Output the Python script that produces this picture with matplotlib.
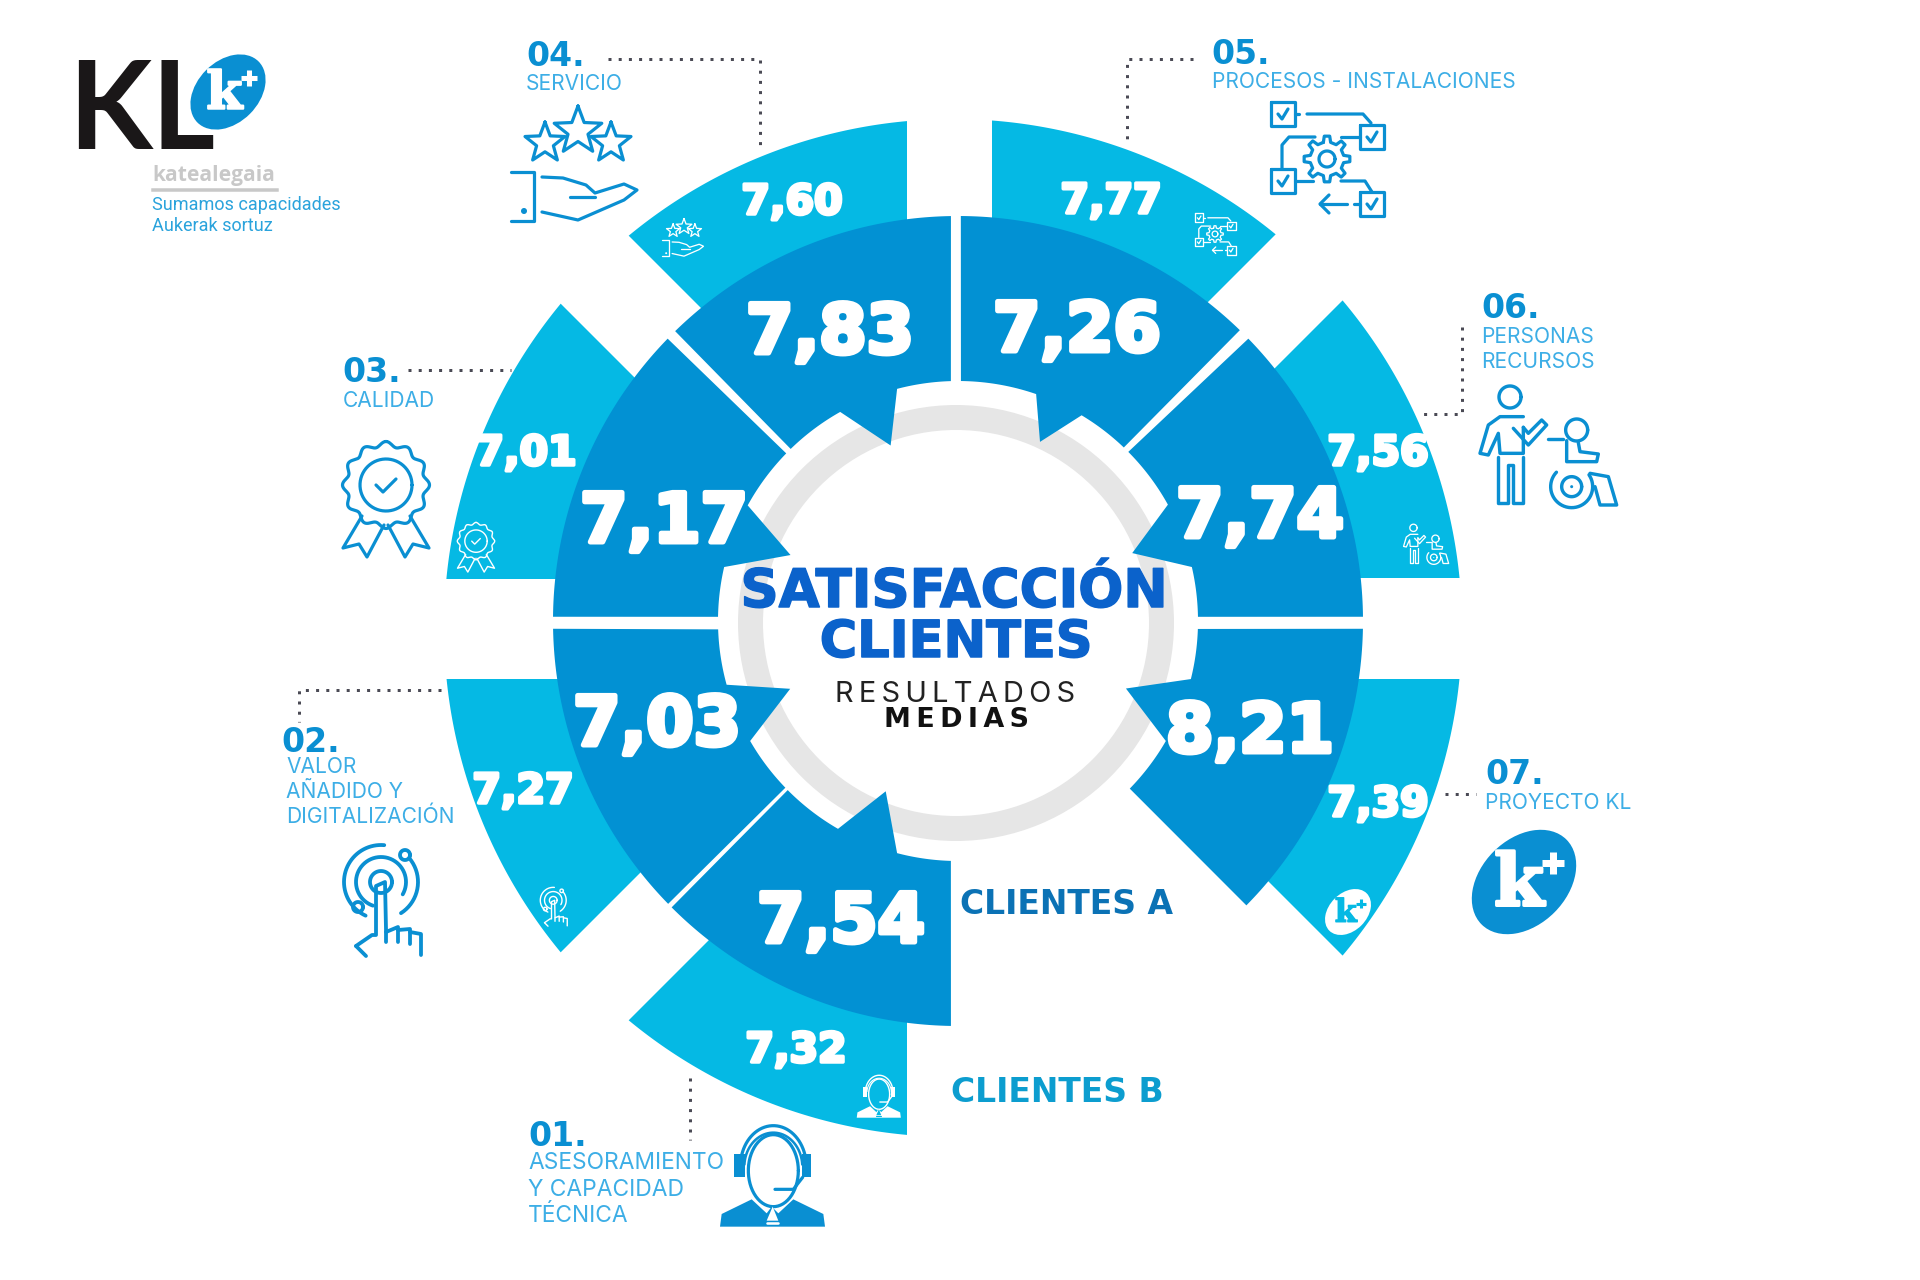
import numpy as np
import matplotlib
matplotlib.use("Agg")
import matplotlib.pyplot as plt
from matplotlib.patches import Ellipse, Wedge
import matplotlib.patheffects as pe

# ---------- data ----------
categories = ["ASESORAMIENTO\nY CAPACIDAD\nTÉCNICA", "VALOR\nAÑADIDO Y\nDIGITALIZACIÓN", "CALIDAD", "SERVICIO",
              "PROCESOS - INSTALACIONES", "PERSONAS\nRECURSOS", "PROYECTO KL"]
numbers = ["01.", "02.", "03.", "04.", "05.", "06.", "07."]
clientes_a = ["7,54", "7,03", "7,17", "7,83", "7,26", "7,74", "8,21"]
clientes_b = ["7,32", "7,27", "7,01", "7,60", "7,77", "7,56", "7,39"]

# ---------- style ----------
DARK = "#0291D3"; LIGHT = "#05B9E4"; ICON = "#0A8FD2"; LABEL = "#3DAEE6"
TITLE = "#0B62CB"; DOT = "#4A4A55"
CX, CY = 958, 621
CXO, CYO, RO = 953, 628, 509
R_OUT, R_IN = 405, 240
R_HIDE = 310

fig = plt.figure(figsize=(19.2, 12.8), dpi=100, facecolor="white")
ax = fig.add_axes([0, 0, 1, 1])
ax.set_xlim(0, 1920); ax.set_ylim(1280, 0); ax.axis("off")


def px(v):
    return v * 0.72


def pol(r, a):
    t = np.radians(a)
    return CX + r * np.sin(t), CY - r * np.cos(t)


def hit(ox, oy, dx, dy, ccx, ccy, rad):
    """Where a ray leaves a circle."""
    n = np.hypot(dx, dy); dx, dy = dx / n, dy / n
    fx, fy = ox - ccx, oy - ccy
    b = fx * dx + fy * dy
    c = fx * fx + fy * fy - rad * rad
    k = -b + np.sqrt(b * b - c)
    return ox + k * dx, oy + k * dy


# ---------- outer (Clientes B) wedges ----------
# order follows categories: edge crossing offset, first edge direction, second edge direction (clockwise)
light_geom = [
    ((-51, 121), (0, 1), (-1, 1)),
    ((-124, 58), (-1, 1), (-1, 0)),
    ((-122, -42), (-1, 0), (-1, -1)),
    ((-51, -107), (-1, -1), (0, -1)),
    ((34, -103), (0, -1), (1, -1)),
    ((107, -43), (1, -1), (1, 0)),
    ((108, 58), (1, 0), (1, 1)),
]
for (ap, d1, d2) in light_geom:
    ox, oy = CX + ap[0], CY + ap[1]
    p1 = hit(ox, oy, *d1, CXO, CYO, RO); p2 = hit(ox, oy, *d2, CXO, CYO, RO)
    q1 = hit(ox, oy, *d1, CX, CY, R_HIDE); q2 = hit(ox, oy, *d2, CX, CY, R_HIDE)
    a1 = np.arctan2(p1[0] - CXO, -(p1[1] - CYO)); a2 = np.arctan2(p2[0] - CXO, -(p2[1] - CYO))
    a2 = a1 + (a2 - a1) % (2 * np.pi)
    tt = np.linspace(a1, a2, 60)
    xs = [q1[0]] + list(CXO + RO * np.sin(tt)) + [q2[0]]
    ys = [q1[1]] + list(CYO - RO * np.cos(tt)) + [q2[1]]
    ax.fill(xs, ys, color=LIGHT, lw=0, zorder=1)

# ---------- grey ring ----------
ax.add_patch(Wedge((956, 623), 218, 0, 360, width=25, color="#E6E6E6", lw=0, zorder=1.5))

# ---------- inner (Clientes A) sectors ----------
dark_geom = [  # outer start/end, inner start/end, notch start, tip, end, tip radius
    (181, 225, 181.7, 225.2, 194.7, 203, 210, 185),
    (225.7, 268.9, 226, 268, 240, 248, 254.6, 181),
    (270.6, 314.2, 271, 314.3, 283, 291.5, 298.8, 180),
    (315.7, 359, 315.8, 358.3, 330.6, 339, 345.3, 188),
    (0.4, 44.1, 0.7, 43.7, 19, 24.6, 31, 197),
    (45.8, 89.4, 45.2, 89, 61, 68.7, 77, 187),
    (91.1, 134.6, 91.9, 134.3, 104, 111.9, 120, 181),
]
for g in dark_geom:
    a0, a1, i0, i1, n1, nt, n2, rt = g
    pts = [pol(R_OUT, a) for a in np.linspace(a0, a1, 60)]
    pts += [pol(R_IN, a) for a in np.linspace(i1, n2, 20)]
    pts += [pol(rt, nt)]
    pts += [pol(R_IN, a) for a in np.linspace(n1, i0, 20)]
    xs, ys = zip(*pts)
    ax.fill(xs, ys, color=DARK, lw=0, zorder=2)

# ---------- values ----------
a_pos = [(841, 923), (657, 726), (664, 523), (830, 334), (1077, 332), (1260, 518), (1250, 733)]
b_pos = [(796, 1051), (523, 792), (526, 454), (792, 203), (1111, 202), (1378, 454), (1378, 805)]
for v, (x, y) in zip(clientes_a, a_pos):
    ax.text(x, y, v, color="white", fontsize=px(68), fontweight="bold", family="DejaVu Sans",
            ha="center", va="center", zorder=5,
            path_effects=[pe.withStroke(linewidth=px(5), foreground="white")])
for v, (x, y) in zip(clientes_b, b_pos):
    ax.text(x, y, v, color="white", fontsize=px(41), fontweight="bold", family="DejaVu Sans",
            ha="center", va="center", zorder=5,
            path_effects=[pe.withStroke(linewidth=px(3.5), foreground="white")])

# ---------- centre title ----------
ax.text(954, 592, "SATISFACCIÓN", color=TITLE, fontsize=px(53), fontweight="bold", family="DejaVu Sans",
        ha="center", va="center", zorder=6, path_effects=[pe.withStroke(linewidth=px(1.5), foreground=TITLE)])
ax.text(956, 643, "CLIENTES", color=TITLE, fontsize=px(51), fontweight="bold", family="DejaVu Sans",
        ha="center", va="center", zorder=6, path_effects=[pe.withStroke(linewidth=px(1.5), foreground=TITLE)])
ax.text(955, 694, "R\u2009E\u2009S\u2009U\u2009L\u2009T\u2009A\u2009D\u2009O\u2009S", color="#222222",
        fontsize=px(29), family=["Inter", "DejaVu Sans"], ha="center", va="center", zorder=6)
ax.text(956, 720, "M\u2009E\u2009D\u2009I\u2009A\u2009S", color="#111111", fontsize=px(27), fontweight="bold",
        family=["DejaVu Sans"], ha="center", va="center", zorder=6)

# ---------- legend labels ----------
ax.text(960, 905, "CLIENTES A", color="#0B72B5", fontsize=px(33), fontweight="bold", family="DejaVu Sans",
        ha="left", va="center", zorder=6)
ax.text(951, 1092, "CLIENTES B", color="#0C9DCF", fontsize=px(33), fontweight="bold", family="DejaVu Sans",
        ha="left", va="center", zorder=6)

# ---------- callouts ----------
num_pos = [(528, 1137), (281, 742), (342, 373), (526, 57), (1211, 54), (1481, 309), (1485, 775)]
txt_pos = [(528, 1163), (286, 767), (343, 401), (526, 84), (1212, 82), (1481, 337), (1485, 803)]
steps = [26.5, 25, 25, 25, 25, 25, 25]
for num, name, (nx, ny), (tx, ty), st in zip(numbers, categories, num_pos, txt_pos, steps):
    ax.text(nx, ny, num, color=ICON, fontsize=px(33), fontweight="bold", family="DejaVu Sans",
            ha="left", va="center", zorder=6)
    for i, line in enumerate(name.split("\n")):
        ax.text(tx, ty + i * st, line, color=LABEL, fontsize=px(22.8 if num == "01." else 21),
                family="Inter", ha="left", va="center", zorder=6)

leaders = [
    ([690, 690], [1078, 1140]),
    ([441, 299, 299], [690, 690, 722]),
    ([408, 511], [370, 370]),
    ([608, 760, 760], [59, 59, 150]),
    ([1193, 1127, 1127], [59, 59, 140]),
    ([1462, 1462, 1423], [327, 414, 414]),
    ([1445, 1476], [794, 794]),
]
for lx, ly in leaders:
    ax.plot(lx, ly, color=DOT, lw=px(3), ls=(0, (1, 2.4)), zorder=3)


# ---------- icons ----------
def poly(cx, cy, s, pts, c, lw, closed=False, fill=False):
    xs = [cx + s * p[0] for p in pts]; ys = [cy + s * p[1] for p in pts]
    if fill:
        ax.fill(xs, ys, color=c, lw=0, zorder=7)
        return
    if closed:
        xs.append(xs[0]); ys.append(ys[0])
    ax.plot(xs, ys, color=c, lw=px(lw), solid_capstyle="round", solid_joinstyle="round", zorder=7)


def circ(cx, cy, s, x, y, r, c, lw, fill=False):
    t = np.linspace(0, 2 * np.pi, 60)
    poly(cx, cy, s, list(zip(x + r * np.cos(t), y + r * np.sin(t))), c, lw, fill=fill)


def star(x, y, r):
    out = []
    for k in range(10):
        rr = r if k % 2 == 0 else r * 0.42
        a = np.radians(k * 36)
        out.append((x + rr * np.sin(a), y - rr * np.cos(a)))
    return out


def gear(r1, r2, n):
    out = []
    for k in range(n):
        b = 2 * np.pi * k / n; w = np.pi / n
        for da, rr in ((-0.55 * w, r1), (-0.3 * w, r2), (0.3 * w, r2), (0.55 * w, r1)):
            out.append((rr * np.sin(b + da), -rr * np.cos(b + da)))
    return out


def icon_hand(cx, cy, s, c, lw):
    for (x, y, r) in ((0, -37, 25), (-33, -25, 21), (33, -25, 21)):
        poly(cx, cy, s, star(x, y, r), c, lw, closed=True)
    poly(cx, cy, s, [(-67, 4), (-44, 4), (-44, 53), (-67, 53)], c, lw)
    circ(cx, cy, s, -54, 43, 3, c, lw, fill=True)
    poly(cx, cy, s, [(-36, 9), (-15, 10), (8, 17), (17, 25), (46, 16), (59, 22), (46, 32), (0, 52), (-36, 44)], c, lw)
    poly(cx, cy, s, [(-8, 29), (17, 29)], c, lw)


def icon_process(cx, cy, s, c, lw):
    for (x, y) in ((-44, -45), (45, -22), (-44, 22), (45, 45)):
        poly(cx, cy, s, [(x - 12, y - 12), (x + 12, y - 12), (x + 12, y + 12), (x - 12, y + 12)], c, lw, closed=True)
        poly(cx, cy, s, [(x - 5, y), (x - 1, y + 5), (x + 5, y - 5)], c, lw)
    poly(cx, cy, s, gear(17, 23, 8), c, lw, closed=True)
    circ(cx, cy, s, 0, 0, 8, c, lw)
    poly(cx, cy, s, [(-32, -45), (-28, -45)], c, lw)
    poly(cx, cy, s, [(-20, -45), (36, -45), (44, -36)], c, lw)
    poly(cx, cy, s, [(-12, -22), (-38, -22), (-45, -14), (-45, 10)], c, lw)
    poly(cx, cy, s, [(14, -22), (33, -22)], c, lw)
    poly(cx, cy, s, [(-32, 22), (-14, 22)], c, lw)
    poly(cx, cy, s, [(14, 22), (38, 22), (45, 33)], c, lw)
    poly(cx, cy, s, [(-7, 45), (20, 45)], c, lw)
    poly(cx, cy, s, [(2, 36), (-7, 45), (2, 54)], c, lw)
    poly(cx, cy, s, [(27, 45), (33, 45)], c, lw)


def icon_people(cx, cy, s, c, lw):
    z = lambda L: [(1180 + a / 3 - 1548, 20 + b / 3 - 449) for a, b in L]
    circ(cx, cy, s, -38, -52, 11, c, lw)
    poly(cx, cy, s, z([(1030, 1190), (960, 1190), (925, 1215), (900, 1300), (925, 1305), (955, 1240), (960, 1300), (1030, 1300), (1030, 1222)]), c, lw)
    poly(cx, cy, s, z([(1000, 1225), (1045, 1275), (1100, 1215), (1085, 1200), (1045, 1240), (1030, 1222)]), c, lw)
    poly(cx, cy, s, z([(955, 1312), (955, 1450), (985, 1450), (985, 1335), (1000, 1335), (1000, 1450), (1030, 1450), (1030, 1312)]), c, lw)
    circ(cx, cy, s, 1180 + 1190 / 3 - 1548, 20 + 1230 / 3 - 449, 11, c, lw)
    poly(cx, cy, s, z([(1105, 1258), (1150, 1258)]), c, lw)
    poly(cx, cy, s, z([(1160, 1262), (1160, 1325), (1250, 1325), (1255, 1302), (1200, 1295), (1195, 1268)]), c, lw)
    wx, wy = 1180 + 1175 / 3 - 1548, 20 + 1400 / 3 - 449
    t = np.linspace(-0.6, 3.9, 40)
    poly(cx, cy, s, list(zip(wx + 21 * np.cos(t), wy + 21 * np.sin(t))), c, lw)
    circ(cx, cy, s, wx, wy, 10, c, lw)
    circ(cx, cy, s, wx, wy, 1.5, c, lw, fill=True)
    poly(cx, cy, s, z([(1230, 1360), (1285, 1370), (1310, 1455), (1260, 1455), (1245, 1400)]), c, lw)


def icon_medal(cx, cy, s, c, lw):
    t = np.linspace(0, 2 * np.pi, 240)
    rr = 41 + 2.5 * np.cos(12 * t)
    poly(cx, cy, s, list(zip(rr * np.sin(t), -16 - rr * np.cos(t))), c, lw, closed=True)
    circ(cx, cy, s, 0, -16, 26, c, lw)
    poly(cx, cy, s, [(-10, -16), (-3, -9), (10, -22)], c, lw)
    poly(cx, cy, s, [(-24, 15), (-43, 47), (-27, 43), (-19, 56), (-2, 24)], c, lw)
    poly(cx, cy, s, [(24, 15), (43, 47), (27, 43), (19, 56), (2, 24)], c, lw)


def icon_touch(cx, cy, s, c, lw):
    rx, ry = -5, -22
    circ(cx, cy, s, rx, ry, 11, c, lw)
    t = np.linspace(1.0, 5.9, 50)
    poly(cx, cy, s, list(zip(rx + 25 * np.cos(t + 0.9), ry + 25 * np.sin(t + 0.9))), c, lw)
    t = np.linspace(2.0, 4.8, 40)
    poly(cx, cy, s, list(zip(rx + 37 * np.cos(t), ry + 37 * np.sin(t))), c, lw)
    t = np.linspace(-0.7, 1.0, 20)
    poly(cx, cy, s, list(zip(rx + 37 * np.cos(t), ry + 37 * np.sin(t))), c, lw)
    circ(cx, cy, s, 19, -49, 5, c, lw)
    circ(cx, cy, s, -28, 3, 5, c, lw)
    poly(cx, cy, s, [(-30, 42), (-14, 31), (-10, 31), (-10, -18), (-1, -22), (0, 25), (0, 38)], c, lw)
    poly(cx, cy, s, [(-30, 42), (-20, 52)], c, lw)
    poly(cx, cy, s, [(0, 28), (12, 23), (12, 38)], c, lw)
    poly(cx, cy, s, [(12, 26), (24, 25), (24, 40)], c, lw)
    poly(cx, cy, s, [(24, 28), (35, 30), (35, 51)], c, lw)


def icon_head(cx, cy, s, c, lw, bg):
    z = lambda L: [(500 + a / 3 - 773, 1060 + b / 3 - 1175) for a, b in L]
    t = np.linspace(0, 2 * np.pi, 60)
    fx, fy = 500 + 820 / 3 - 773, 1060 + 320 / 3 - 1175
    poly(cx, cy, s, z([(660, 500), (665, 462), (755, 418), (800, 460), (815, 440), (835, 460), (880, 418), (970, 462), (975, 500)]), c, lw, fill=True)
    poly(cx, cy, s, list(zip(fx + 25 * np.cos(t), fy + 4 + 36 * np.sin(t))), c, lw)
    t = np.linspace(np.pi * 1.02, np.pi * 1.98, 40)
    poly(cx, cy, s, list(zip(fx + 33 * np.cos(t), fy + 41 * np.sin(t))), c, lw)
    poly(cx, cy, s, list(zip(fx + 29 * np.cos(t), fy + 34 * np.sin(t))), c, lw * 0.8)
    for xa, xb in ((703, 735), (905, 933)):
        poly(cx, cy, s, z([(xa, 282), (xb, 282), (xb, 350), (xa, 350)]), c, lw, fill=True)
    poly(cx, cy, s, z([(825, 388), (880, 388), (908, 352)]), c, lw)
    poly(cx, cy, s, z([(818, 440), (835, 482), (800, 482)]), bg, lw * 0.6, fill=True)
    poly(cx, cy, s, z([(800, 490), (835, 490)]), bg, lw * 0.8)


def logo(cx, cy, s, blob, mark):
    ax.add_patch(Ellipse((cx, cy), 120 * s, 86 * s, angle=-45, color=blob, lw=0, zorder=7))
    ax.text(cx - 5 * s, cy + 3 * s, "k", color=mark, fontsize=px(72 * s), fontweight="bold", family="DejaVu Serif",
            ha="center", va="center", zorder=8,
            path_effects=[pe.withStroke(linewidth=px(3 * s), foreground=mark)])
    ax.plot([cx + 29 * s - 11 * s, cx + 29 * s + 11 * s], [cy - 19 * s] * 2, color=mark, lw=px(7 * s), zorder=8, solid_capstyle="butt")
    ax.plot([cx + 29 * s] * 2, [cy - 30 * s, cy - 8 * s], color=mark, lw=px(7 * s), zorder=8, solid_capstyle="butt")


icon_hand(578, 168, 1, ICON, 3.2)
icon_hand(684, 239, 0.33, "white", 1.3)
icon_process(1327, 159, 1, ICON, 3.2)
icon_process(1215, 234, 0.36, "white", 1.3)
icon_people(1548, 449, 1, ICON, 3.4)
icon_people(1426, 545, 0.33, "white", 1.3)
icon_medal(386, 501, 1, ICON, 3.2)
icon_medal(476, 548, 0.43, "white", 1.4)
icon_touch(386, 904, 1, ICON, 3.8)
icon_touch(555, 908, 0.35, "white", 1.4)
icon_head(773, 1175, 1, ICON, 3.2, "white")
icon_head(879, 1096, 0.42, "white", 1.4, LIGHT)
logo(1524, 882, 1, ICON, "white")
logo(1348, 912, 0.44, "white", LIGHT)

# ---------- corporate logo ----------
ax.text(68, 114, "KL", color="#1A1718", fontsize=px(122), fontweight="bold", family="Lato",
        ha="left", va="center", zorder=6)
logo(228, 92, 0.72, ICON, "white")
ax.text(152, 175, "katealegaia", color="#C8C8C8", fontsize=px(21), fontweight="bold", family="Open Sans",
        ha="left", va="center", zorder=6)
ax.plot([153, 277], [190, 190], color="#C8C8C8", lw=px(3.5), zorder=6)
ax.text(152, 205, "Sumamos capacidades", color="#2AA3DC", fontsize=px(18), family="Roboto", ha="left", va="center")
ax.text(152, 226, "Aukerak sortuz", color="#2AA3DC", fontsize=px(18), family="Roboto", ha="left", va="center")

fig.savefig("out.png", dpi=100, facecolor="white")
